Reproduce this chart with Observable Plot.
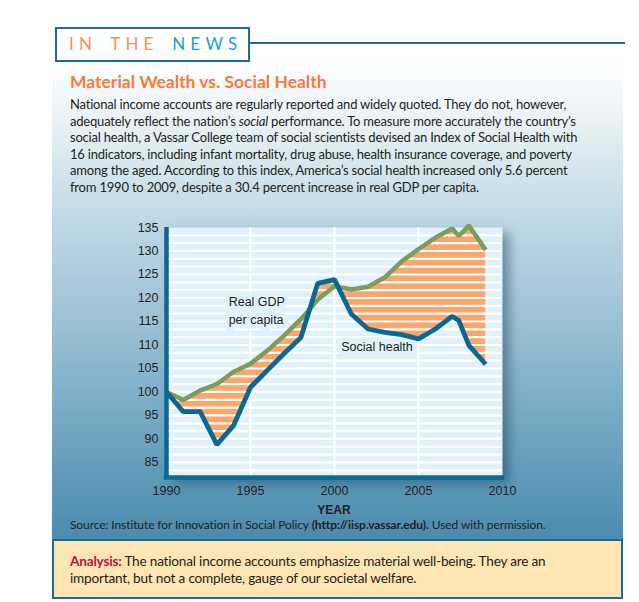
<!DOCTYPE html>
<html><head><meta charset="utf-8">
<script src="https://cdn.jsdelivr.net/npm/d3@7"></script>
<script src="https://cdn.jsdelivr.net/npm/@observablehq/plot@0.6"></script>
<style>
body{margin:0;width:639px;height:602px;background:#fff;position:relative;overflow:hidden;font-family:Lato,"Open Sans",sans-serif;color:#231f20}
#panel{position:absolute;left:52px;top:60px;width:571px;height:480px;background:linear-gradient(to bottom,#ffffff 0%,#e3eef3 16%,#bed7e4 34%,#a0c4d7 52%,#73a8c3 76%,#4a8aad 100%)}
#newsbox{position:absolute;left:55px;top:27px;width:191px;height:31px;border:2px solid #1b6d93;background:#fff;box-sizing:content-box}
#newsline{position:absolute;left:248px;top:42px;width:377px;height:2px;background:#1b6d93}
#news{position:absolute;left:69px;top:33px;font-size:17px;font-weight:400;letter-spacing:5.2px;word-spacing:4px;white-space:nowrap;font-family:Lato,sans-serif}
#news .a{color:#f5905a}
#news .b{color:#1a9fd0}
#title{position:absolute;left:70px;top:71px;font-size:17.5px;font-weight:bold;color:#f47c3c;white-space:nowrap}
#body{position:absolute;left:70px;top:96px;width:487px;font-size:13px;line-height:16.6px;letter-spacing:-0.2px}
#body span{display:block;white-space:nowrap;text-align:justify;text-align-last:justify}
#body span.last{text-align-last:left}
#chart{position:absolute;left:100px;top:215px}
#year{position:absolute;left:314px;top:503px;width:40px;text-align:center;font:bold 12px "Liberation Sans",Arial,sans-serif;color:#231f20}
#source{position:absolute;left:70px;top:517px;font-size:12px;white-space:nowrap;letter-spacing:-0.1px}
#analysis{position:absolute;left:52px;top:539px;width:567px;height:56px;border:2px solid #1b6d93;background:#fde5b4}
#atext{position:absolute;left:70px;top:553px;font-size:13.6px;line-height:16.5px;white-space:nowrap;letter-spacing:-0.2px}
#atext b{color:#b3163c}
[aria-label="frame"]{filter:drop-shadow(6px 6px 6px rgba(20,60,90,0.5))}
</style></head>
<body>
<div id="panel"></div>
<div id="newsline"></div>
<div id="newsbox"></div>
<div id="news"><span class="a">IN THE</span> <span class="b">NEWS</span></div>
<div id="title">Material Wealth vs. Social Health</div>
<div id="body">
<span>National income accounts are regularly reported and widely quoted. They do not, however,</span>
<span>adequately reflect the nation’s <i>social</i> performance. To measure more accurately the country’s</span>
<span>social health, a Vassar College team of social scientists devised an Index of Social Health with</span>
<span>16 indicators, including infant mortality, drug abuse, health insurance coverage, and poverty</span>
<span>among the aged. According to this index, America’s social health increased only 5.6 percent</span>
<span class="last">from 1990 to 2009, despite a 30.4 percent increase in real GDP per capita.</span>
</div>
<div id="chart"></div>
<div id="year">YEAR</div>
<div id="source">Source: Institute for Innovation in Social Policy <b>(http://iisp.vassar.edu).</b> Used with permission.</div>
<div id="analysis"></div>
<div id="atext"><b>Analysis:</b> The national income accounts emphasize material well-being. They are an<br>important, but not a complete, gauge of our societal welfare.</div>
<script>
// ---- data ----
const years  = [1990, 1991, 1992, 1993, 1994, 1995, 1996, 1997, 1998, 1999, 2000, 2001, 2002, 2003, 2004, 2005, 2006, 2007, 2007.4, 2008, 2009];
const gdp    = [100, 98.3, 100.3, 101.7, 104.3, 106.0, 108.8, 112.0, 115.5, 119.6, 122.5, 121.8, 122.4, 124.4, 127.8, 130.4, 132.8, 134.8, 133.2, 135.4, 130.2];
const social = [100, 95.8, 95.8, 88.8, 92.9, 101.0, 104.6, 108.2, 111.6, 123.1, 123.9, 116.6, 113.4, 112.7, 112.2, 111.3, 113.4, 116.1, 115.2, 109.9, 105.9];
const yTicks = [85, 90, 95, 100, 105, 110, 115, 120, 125, 130, 135];
const xTicks = [1990, 1995, 2000, 2005, 2010];
const vGrid  = [1995, 2000, 2005];
const stripes = d3.range(1, 32).map(k => 135 - k * 5 / 3);
const yMin = 81.8, yMax = 135;
const gdpLabel = [{year: 1993.7, value: 117.6, text: "Real GDP\nper capita"}];
const socLabel = [{year: 2000.4, value: 109.5, text: "Social health"}];

const rows = years.map((y, i) => ({year: y, gdp: gdp[i], social: social[i]}));
const BLUE = "#0c6892", GREEN = "#7b9d5e", ORANGE = "#f9a76d", BG = "#e1f1fb";

const chart = Plot.plot({
  width: 420, height: 300,
  marginLeft: 66, marginRight: 18, marginTop: 12, marginBottom: 38,
  x: {domain: [1990, 2010]},
  y: {domain: [yMin, yMax]},
  style: {background: "transparent", fontFamily: "'Liberation Sans', Arial, sans-serif", fontSize: "12px", color: "#231f20", overflow: "visible"},
  marks: [
    Plot.frame({fill: BG, stroke: "none"}),
    Plot.ruleX(vGrid, {stroke: "white", strokeWidth: 2}),
    Plot.areaY(rows, {x: "year", y1: "social", y2: "gdp", fill: ORANGE}),
    Plot.ruleY(stripes, {stroke: "white", strokeWidth: 2.2}),
    Plot.text(gdpLabel, {x: "year", y: "value", text: "text", textAnchor: "start", lineHeight: 1.4, fontSize: 12.5, fill: "#231f20", stroke: BG, strokeWidth: 9, strokeLinejoin: "miter"}),
    Plot.text(socLabel, {x: "year", y: "value", text: "text", textAnchor: "start", fontSize: 12.5, fill: "#231f20", stroke: BG, strokeWidth: 9, strokeLinejoin: "miter"}),
    Plot.line(rows, {x: "year", y: "gdp", stroke: GREEN, strokeWidth: 4.5, strokeLinejoin: "miter", strokeLinecap: "butt"}),
    Plot.line(rows, {x: "year", y: "social", stroke: BLUE, strokeWidth: 4.8, strokeLinejoin: "miter", strokeLinecap: "butt"}),
    Plot.ruleX([1990], {y1: yMin, y2: yMax, stroke: BLUE, strokeWidth: 4.5}),
    Plot.ruleY([yMin], {x1: 1990, x2: 2010, stroke: BLUE, strokeWidth: 4.5, strokeLinecap: "square"}),
    Plot.axisY(yTicks, {tickSize: 0, tickPadding: 8, label: null, fontSize: 12.5}),
    Plot.axisX(xTicks, {tickSize: 0, tickPadding: 9, label: null, fontSize: 12.5, tickFormat: d => String(d)})
  ]
});
document.getElementById("chart").appendChild(chart);
</script>
</body></html>
